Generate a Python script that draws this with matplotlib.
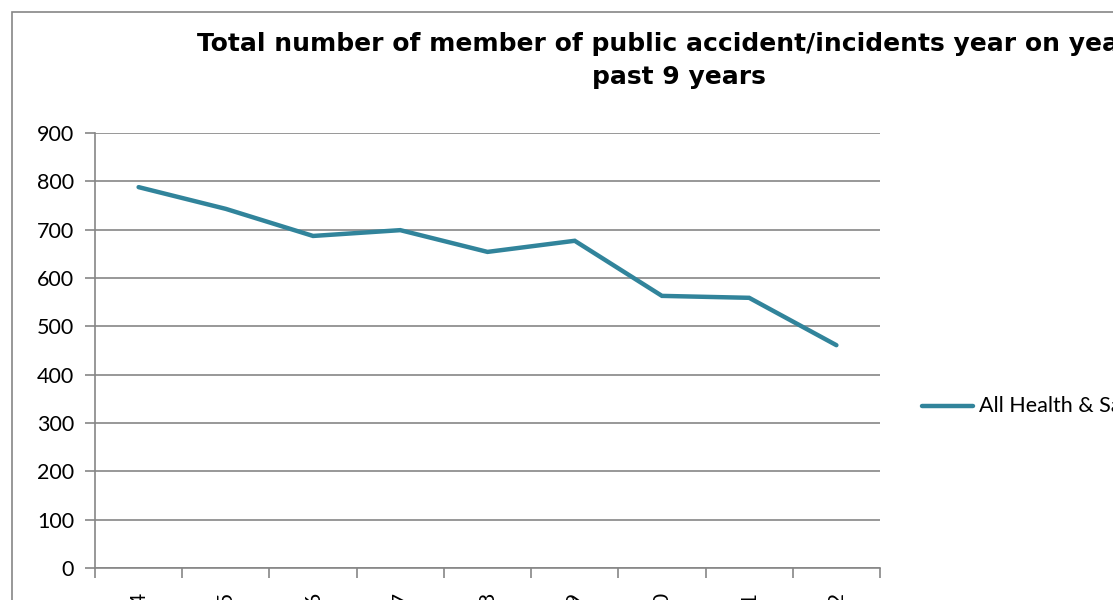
import matplotlib.pyplot as plt
from matplotlib.patches import Rectangle
from matplotlib.lines import Line2D

plt.rcParams['font.family'] = ['Lato', 'DejaVu Sans']

# data
years = ['2003/04', '2004/05', '2005/06', '2006/07', '2007/08',
         '2008/09', '2009/10', '2010/11', '2011/12']
incidents = [788, 743, 687, 699, 654, 677, 563, 559, 461]
series_name = 'All Health & Safety incidents'
title_line1 = 'Total number of member of public accident/incidents year on year'
title_line2 = 'past 9 years'

line_color = '#31849B'
axis_gray = '#868686'

fig = plt.figure(figsize=(11.13, 6.0), dpi=100)

# outer chart border (cut off at the right and bottom, like the reference)
fig.patches.append(Rectangle((12 / 1113, -0.2), 1.2, (588 + 120) / 600,
                             transform=fig.transFigure, fill=False,
                             edgecolor=axis_gray, lw=1.2, clip_on=False))

ax = fig.add_axes([95 / 1113, 32 / 600, 785 / 1113, 435 / 600])
x = list(range(len(years)))
ax.plot(x, incidents, color=line_color, lw=3.2, solid_capstyle='round',
        solid_joinstyle='miter')

ax.set_xlim(-0.5, len(years) - 0.5)
ax.set_ylim(0, 900)
ax.set_yticks(range(0, 901, 100))
ax.yaxis.grid(True, color=axis_gray, lw=1.2)
ax.set_axisbelow(True)

# x ticks sit between categories, labels at the centres
ax.set_xticks([i - 0.5 for i in range(len(years) + 1)])
ax.set_xticklabels([])
ax.set_xticks(x, minor=True)
ax.set_xticklabels(years, minor=True, rotation=90, fontsize=15.5)
ax.tick_params(axis='x', which='minor', length=0, pad=17)
ax.tick_params(axis='x', which='major', length=7, color=axis_gray, width=1.2)
ax.tick_params(axis='y', length=7, color=axis_gray, width=1.2,
               labelsize=15.5, pad=8)

for side in ['top', 'right']:
    ax.spines[side].set_visible(False)
for side in ['left', 'bottom']:
    ax.spines[side].set_color(axis_gray)
    ax.spines[side].set_linewidth(1.2)

fig.text(197 / 1113, 1 - 51 / 600, title_line1, ha='left', va='baseline',
         fontsize=18, fontweight='bold', family=['DejaVu Sans'])
fig.text(679 / 1113, 1 - 84 / 600, title_line2, ha='center', va='baseline',
         fontsize=18, fontweight='bold', family=['DejaVu Sans'])

# legend drawn by hand so it can run off the edge
fig.lines.append(Line2D([922 / 1113, 973 / 1113], [1 - 406 / 600] * 2,
                        transform=fig.transFigure, color=line_color, lw=3.2,
                        solid_capstyle='round'))
fig.text(979 / 1113, 1 - 406 / 600, series_name, ha='left', va='center',
         fontsize=15.5)

fig.savefig('out.png', dpi=100)
